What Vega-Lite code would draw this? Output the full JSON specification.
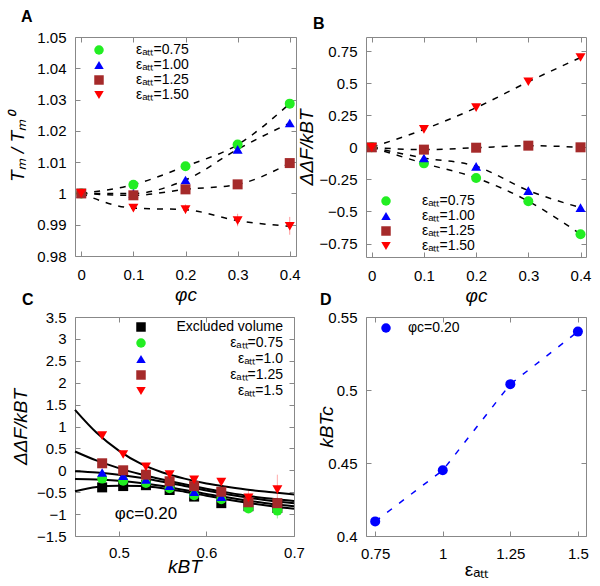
{
  "$schema": "https://vega.github.io/schema/vega-lite/v6.json",
  "padding": {"left": 8, "top": 8, "right": 5, "bottom": 5},
  "background": "white",
  "config": {
    "font": "Liberation Sans",
    "view": {"stroke": "#888", "strokeWidth": 1},
    "axis": {"grid": false, "domain": false, "tickColor": "#888", "tickSize": -5, "labelFontSize": 15, "labelColor": "#000", "labelPadding": 14, "labelFlush": false, "labelOverlap": false, "titleFontSize": 19, "titleFontWeight": "normal", "titleFontStyle": "italic", "titleColor": "#000"},
    "legend": {"labelFontSize": 14, "labelColor": "#000"},
    "title": {"fontSize": 16, "fontWeight": "bold", "anchor": "start", "frame": "group", "color": "#000"}
  },
  "datasets": {
    "a": [
      {"x": 0, "y": 1.0, "s": "εₐₜₜ=0.75"}, {"x": 0.1, "y": 1.0028, "s": "εₐₜₜ=0.75"}, {"x": 0.2, "y": 1.0087, "s": "εₐₜₜ=0.75"}, {"x": 0.3, "y": 1.0156, "s": "εₐₜₜ=0.75"}, {"x": 0.4, "y": 1.0287, "s": "εₐₜₜ=0.75"},
      {"x": 0, "y": 1.0, "s": "εₐₜₜ=1.00"}, {"x": 0.1, "y": 1.0, "s": "εₐₜₜ=1.00"}, {"x": 0.2, "y": 1.0043, "s": "εₐₜₜ=1.00"}, {"x": 0.3, "y": 1.0141, "s": "εₐₜₜ=1.00"}, {"x": 0.4, "y": 1.0225, "s": "εₐₜₜ=1.00"},
      {"x": 0, "y": 1.0, "s": "εₐₜₜ=1.25"}, {"x": 0.1, "y": 0.9994, "s": "εₐₜₜ=1.25"}, {"x": 0.2, "y": 1.0013, "s": "εₐₜₜ=1.25"}, {"x": 0.3, "y": 1.0029, "s": "εₐₜₜ=1.25"}, {"x": 0.4, "y": 1.0097, "s": "εₐₜₜ=1.25"},
      {"x": 0, "y": 1.0, "s": "εₐₜₜ=1.50"}, {"x": 0.1, "y": 0.9953, "s": "εₐₜₜ=1.50"}, {"x": 0.2, "y": 0.9948, "s": "εₐₜₜ=1.50"}, {"x": 0.3, "y": 0.9913, "s": "εₐₜₜ=1.50"}, {"x": 0.4, "y": 0.9895, "s": "εₐₜₜ=1.50"}
    ],
    "aerr": [
      {"x": 0.1, "lo": 0.9945, "hi": 0.996}, {"x": 0.2, "lo": 0.9935, "hi": 0.9965}, {"x": 0.3, "lo": 0.9895, "hi": 0.9935}, {"x": 0.4, "lo": 0.9868, "hi": 0.9925}
    ],
    "b": [
      {"x": 0, "y": 0, "s": "εₐₜₜ=0.75"}, {"x": 0.1, "y": -0.125, "s": "εₐₜₜ=0.75"}, {"x": 0.2, "y": -0.239, "s": "εₐₜₜ=0.75"}, {"x": 0.3, "y": -0.42, "s": "εₐₜₜ=0.75"}, {"x": 0.4, "y": -0.677, "s": "εₐₜₜ=0.75"},
      {"x": 0, "y": 0, "s": "εₐₜₜ=1.00"}, {"x": 0.1, "y": -0.083, "s": "εₐₜₜ=1.00"}, {"x": 0.2, "y": -0.148, "s": "εₐₜₜ=1.00"}, {"x": 0.3, "y": -0.337, "s": "εₐₜₜ=1.00"}, {"x": 0.4, "y": -0.47, "s": "εₐₜₜ=1.00"},
      {"x": 0, "y": 0, "s": "εₐₜₜ=1.25"}, {"x": 0.1, "y": -0.018, "s": "εₐₜₜ=1.25"}, {"x": 0.2, "y": -0.003, "s": "εₐₜₜ=1.25"}, {"x": 0.3, "y": 0.013, "s": "εₐₜₜ=1.25"}, {"x": 0.4, "y": 0.0, "s": "εₐₜₜ=1.25"},
      {"x": 0, "y": 0, "s": "εₐₜₜ=1.50"}, {"x": 0.1, "y": 0.14, "s": "εₐₜₜ=1.50"}, {"x": 0.2, "y": 0.309, "s": "εₐₜₜ=1.50"}, {"x": 0.3, "y": 0.511, "s": "εₐₜₜ=1.50"}, {"x": 0.4, "y": 0.70, "s": "εₐₜₜ=1.50"}
    ],
    "cp": [
      {"x": 0.481, "y": -0.39, "s": "Excluded volume"}, {"x": 0.505, "y": -0.36, "s": "Excluded volume"}, {"x": 0.531, "y": -0.34, "s": "Excluded volume"}, {"x": 0.558, "y": -0.45, "s": "Excluded volume"}, {"x": 0.586, "y": -0.6, "s": "Excluded volume"}, {"x": 0.617, "y": -0.75, "s": "Excluded volume"}, {"x": 0.648, "y": -0.82, "s": "Excluded volume"}, {"x": 0.681, "y": -0.86, "s": "Excluded volume"},
      {"x": 0.481, "y": -0.19, "s": "εₐₜₜ=0.75"}, {"x": 0.505, "y": -0.24, "s": "εₐₜₜ=0.75"}, {"x": 0.531, "y": -0.29, "s": "εₐₜₜ=0.75"}, {"x": 0.558, "y": -0.41, "s": "εₐₜₜ=0.75"}, {"x": 0.586, "y": -0.57, "s": "εₐₜₜ=0.75"}, {"x": 0.617, "y": -0.66, "s": "εₐₜₜ=0.75"}, {"x": 0.648, "y": -0.87, "s": "εₐₜₜ=0.75"}, {"x": 0.681, "y": -0.92, "s": "εₐₜₜ=0.75"},
      {"x": 0.481, "y": -0.05, "s": "εₐₜₜ=1.0"}, {"x": 0.505, "y": -0.12, "s": "εₐₜₜ=1.0"}, {"x": 0.531, "y": -0.21, "s": "εₐₜₜ=1.0"}, {"x": 0.558, "y": -0.35, "s": "εₐₜₜ=1.0"}, {"x": 0.586, "y": -0.49, "s": "εₐₜₜ=1.0"}, {"x": 0.617, "y": -0.6, "s": "εₐₜₜ=1.0"}, {"x": 0.648, "y": -0.68, "s": "εₐₜₜ=1.0"}, {"x": 0.681, "y": -0.74, "s": "εₐₜₜ=1.0"},
      {"x": 0.481, "y": 0.16, "s": "εₐₜₜ=1.25"}, {"x": 0.505, "y": 0.0, "s": "εₐₜₜ=1.25"}, {"x": 0.531, "y": -0.1, "s": "εₐₜₜ=1.25"}, {"x": 0.558, "y": -0.25, "s": "εₐₜₜ=1.25"}, {"x": 0.586, "y": -0.36, "s": "εₐₜₜ=1.25"}, {"x": 0.617, "y": -0.49, "s": "εₐₜₜ=1.25"}, {"x": 0.648, "y": -0.73, "s": "εₐₜₜ=1.25"}, {"x": 0.681, "y": -0.75, "s": "εₐₜₜ=1.25"},
      {"x": 0.481, "y": 0.79, "s": "εₐₜₜ=1.5"}, {"x": 0.505, "y": 0.36, "s": "εₐₜₜ=1.5"}, {"x": 0.531, "y": 0.08, "s": "εₐₜₜ=1.5"}, {"x": 0.558, "y": -0.1, "s": "εₐₜₜ=1.5"}, {"x": 0.586, "y": -0.22, "s": "εₐₜₜ=1.5"}, {"x": 0.617, "y": -0.27, "s": "εₐₜₜ=1.5"}, {"x": 0.648, "y": -0.63, "s": "εₐₜₜ=1.5"}, {"x": 0.681, "y": -0.44, "s": "εₐₜₜ=1.5"}
    ],
    "cerr": [
      {"x": 0.617, "lo": -0.35, "hi": -0.2, "s": "red"},
      {"x": 0.648, "lo": -0.78, "hi": -0.45, "s": "red"},
      {"x": 0.681, "lo": -0.85, "hi": -0.1, "s": "red"},
      {"x": 0.648, "lo": -0.97, "hi": -0.78, "s": "green"},
      {"x": 0.681, "lo": -1.1, "hi": -0.75, "s": "green"},
      {"x": 0.681, "lo": -0.88, "hi": -0.62, "s": "brown"}
    ],
    "cf": [
      {"x": 0.45, "y": 1.38, "s": "r"}, {"x": 0.475, "y": 0.85, "s": "r"}, {"x": 0.5, "y": 0.45, "s": "r"}, {"x": 0.525, "y": 0.15, "s": "r"}, {"x": 0.55, "y": -0.05, "s": "r"}, {"x": 0.575, "y": -0.19, "s": "r"}, {"x": 0.6, "y": -0.3, "s": "r"}, {"x": 0.625, "y": -0.38, "s": "r"}, {"x": 0.65, "y": -0.45, "s": "r"}, {"x": 0.675, "y": -0.5, "s": "r"}, {"x": 0.7, "y": -0.55, "s": "r"},
      {"x": 0.45, "y": 0.43, "s": "br"}, {"x": 0.475, "y": 0.22, "s": "br"}, {"x": 0.5, "y": 0.05, "s": "br"}, {"x": 0.525, "y": -0.09, "s": "br"}, {"x": 0.55, "y": -0.21, "s": "br"}, {"x": 0.575, "y": -0.32, "s": "br"}, {"x": 0.6, "y": -0.42, "s": "br"}, {"x": 0.625, "y": -0.51, "s": "br"}, {"x": 0.65, "y": -0.59, "s": "br"}, {"x": 0.675, "y": -0.65, "s": "br"}, {"x": 0.7, "y": -0.7, "s": "br"},
      {"x": 0.45, "y": -0.02, "s": "bl"}, {"x": 0.475, "y": -0.05, "s": "bl"}, {"x": 0.5, "y": -0.1, "s": "bl"}, {"x": 0.525, "y": -0.17, "s": "bl"}, {"x": 0.55, "y": -0.26, "s": "bl"}, {"x": 0.575, "y": -0.36, "s": "bl"}, {"x": 0.6, "y": -0.46, "s": "bl"}, {"x": 0.625, "y": -0.55, "s": "bl"}, {"x": 0.65, "y": -0.63, "s": "bl"}, {"x": 0.675, "y": -0.7, "s": "bl"}, {"x": 0.7, "y": -0.75, "s": "bl"},
      {"x": 0.45, "y": -0.2, "s": "g"}, {"x": 0.475, "y": -0.21, "s": "g"}, {"x": 0.5, "y": -0.24, "s": "g"}, {"x": 0.525, "y": -0.29, "s": "g"}, {"x": 0.55, "y": -0.36, "s": "g"}, {"x": 0.575, "y": -0.45, "s": "g"}, {"x": 0.6, "y": -0.54, "s": "g"}, {"x": 0.625, "y": -0.62, "s": "g"}, {"x": 0.65, "y": -0.7, "s": "g"}, {"x": 0.675, "y": -0.77, "s": "g"}, {"x": 0.7, "y": -0.82, "s": "g"},
      {"x": 0.45, "y": -0.48, "s": "k"}, {"x": 0.475, "y": -0.38, "s": "k"}, {"x": 0.5, "y": -0.35, "s": "k"}, {"x": 0.525, "y": -0.36, "s": "k"}, {"x": 0.55, "y": -0.41, "s": "k"}, {"x": 0.575, "y": -0.49, "s": "k"}, {"x": 0.6, "y": -0.58, "s": "k"}, {"x": 0.625, "y": -0.67, "s": "k"}, {"x": 0.65, "y": -0.75, "s": "k"}, {"x": 0.675, "y": -0.82, "s": "k"}, {"x": 0.7, "y": -0.88, "s": "k"}
    ],
    "cann": [{"x": 0.531, "y": -1.0, "label": "φc=0.20"}],
    "d": [
      {"x": 0.75, "y": 0.41, "s": "φc=0.20"}, {"x": 1.0, "y": 0.445, "s": "φc=0.20"}, {"x": 1.25, "y": 0.504, "s": "φc=0.20"}, {"x": 1.5, "y": 0.540, "s": "φc=0.20"}
    ]
  },
  "columns": 2,
  "spacing": {"row": 60, "column": 70},
  "bounds": "flush",
  "resolve": {"scale": {"color": "independent", "shape": "independent"}, "legend": {"color": "independent", "shape": "independent"}},
  "concat": [
    {
      "title": {"text": "A", "dx": -54, "offset": 5},
      "width": 221, "height": 219,
      "resolve": {"axis": {"x": "independent", "y": "independent"}},
      "encoding": {
        "x": {"field": "x", "type": "quantitative", "scale": {"domain": [-0.012, 0.412], "nice": false, "zero": false}, "axis": null},
        "y": {"field": "y", "type": "quantitative", "scale": {"domain": [0.98, 1.05], "nice": false, "zero": false}, "axis": null}
      },
      "layer": [
        {"data": {"name": "a"}, "mark": {"type": "point", "opacity": 0},
         "encoding": {
           "x": {"field": "x", "type": "quantitative", "axis": {"orient": "top", "labels": false, "title": null, "values": [0, 0.1, 0.2, 0.3, 0.4]}},
           "y": {"field": "y", "type": "quantitative", "axis": {"orient": "right", "labels": false, "title": null, "values": [0.98, 0.99, 1, 1.01, 1.02, 1.03, 1.04, 1.05]}}
         }},
        {"data": {"name": "aerr"}, "mark": {"type": "rule", "strokeWidth": 1, "color": "#ff9a9a"},
         "encoding": {"y": {"field": "lo", "type": "quantitative", "axis": null}, "y2": {"field": "hi"}}},
        {"data": {"name": "a"}, "mark": {"type": "line", "color": "#000", "strokeWidth": 1.5, "strokeDash": [6, 7], "interpolate": "monotone"},
         "encoding": {"detail": {"field": "s"}}},
        {"data": {"name": "a"}, "mark": {"type": "point", "filled": true, "opacity": 1, "size": 100},
         "encoding": {
           "x": {"field": "x", "type": "quantitative", "title": "φc", "axis": {"orient": "bottom", "values": [0, 0.1, 0.2, 0.3, 0.4], "format": ".1~f", "labelPadding": 16, "titlePadding": 3}},
           "y": {"field": "y", "type": "quantitative", "title": "Tₘ / Tₘ⁰", "axis": {"orient": "left", "values": [0.98, 0.99, 1, 1.01, 1.02, 1.03, 1.04, 1.05], "format": ".2~f", "titlePadding": 9}},
           "color": {"field": "s", "type": "nominal", "scale": {"domain": ["εₐₜₜ=0.75", "εₐₜₜ=1.00", "εₐₜₜ=1.25", "εₐₜₜ=1.50"], "range": ["#22ee22", "#0000ff", "#a52a2a", "#ff0000"]}, "legend": {"title": null, "orient": "none", "legendX": 17, "legendY": 6, "labelOffset": 30, "rowPadding": 1, "symbolSize": 90}},
           "shape": {"field": "s", "type": "nominal", "scale": {"domain": ["εₐₜₜ=0.75", "εₐₜₜ=1.00", "εₐₜₜ=1.25", "εₐₜₜ=1.50"], "range": ["circle", "triangle-up", "square", "triangle-down"]}, "legend": {"title": null, "orient": "none", "legendX": 17, "legendY": 6, "labelOffset": 30, "rowPadding": 1, "symbolSize": 90}}
         }}
      ]
    },
    {
      "title": {"text": "B", "dx": -53, "offset": 5},
      "width": 220, "height": 220,
      "resolve": {"axis": {"x": "independent", "y": "independent"}},
      "encoding": {
        "x": {"field": "x", "type": "quantitative", "scale": {"domain": [-0.011, 0.4105], "nice": false, "zero": false}, "axis": null},
        "y": {"field": "y", "type": "quantitative", "scale": {"domain": [-0.855, 0.86], "nice": false, "zero": false}, "axis": null}
      },
      "layer": [
        {"data": {"name": "b"}, "mark": {"type": "point", "opacity": 0},
         "encoding": {
           "x": {"field": "x", "type": "quantitative", "axis": {"orient": "top", "labels": false, "title": null, "values": [0, 0.1, 0.2, 0.3, 0.4]}},
           "y": {"field": "y", "type": "quantitative", "axis": {"orient": "right", "labels": false, "title": null, "values": [-0.75, -0.5, -0.25, 0, 0.25, 0.5, 0.75]}}
         }},
        {"data": {"name": "b"}, "mark": {"type": "line", "color": "#000", "strokeWidth": 1.5, "strokeDash": [6, 7], "interpolate": "monotone"},
         "encoding": {"detail": {"field": "s"}}},
        {"data": {"name": "b"}, "mark": {"type": "point", "filled": true, "opacity": 1, "size": 100},
         "encoding": {
           "x": {"field": "x", "type": "quantitative", "title": "φc", "axis": {"orient": "bottom", "values": [0, 0.1, 0.2, 0.3, 0.4], "format": ".1~f", "labelPadding": 16, "titlePadding": 3}},
           "y": {"field": "y", "type": "quantitative", "title": "ΔΔF/kBT", "axis": {"orient": "left", "values": [-0.75, -0.5, -0.25, 0, 0.25, 0.5, 0.75], "format": ".2~f", "titlePadding": 3}},
           "color": {"field": "s", "type": "nominal", "scale": {"domain": ["εₐₜₜ=0.75", "εₐₜₜ=1.00", "εₐₜₜ=1.25", "εₐₜₜ=1.50"], "range": ["#22ee22", "#0000ff", "#a52a2a", "#ff0000"]}, "legend": {"title": null, "orient": "none", "legendX": 13, "legendY": 157, "labelOffset": 29, "rowPadding": 1, "symbolSize": 90}},
           "shape": {"field": "s", "type": "nominal", "scale": {"domain": ["εₐₜₜ=0.75", "εₐₜₜ=1.00", "εₐₜₜ=1.25", "εₐₜₜ=1.50"], "range": ["circle", "triangle-up", "square", "triangle-down"]}, "legend": {"title": null, "orient": "none", "legendX": 13, "legendY": 157, "labelOffset": 29, "rowPadding": 1, "symbolSize": 90}}
         }}
      ]
    },
    {
      "title": {"text": "C", "dx": -53, "offset": 2},
      "width": 219, "height": 219,
      "resolve": {"axis": {"x": "independent", "y": "independent"}},
      "encoding": {
        "x": {"field": "x", "type": "quantitative", "scale": {"domain": [0.45, 0.7], "nice": false, "zero": false}, "axis": null},
        "y": {"field": "y", "type": "quantitative", "scale": {"domain": [-1.5, 3.5], "nice": false, "zero": false}, "axis": null}
      },
      "layer": [
        {"data": {"name": "cp"}, "mark": {"type": "point", "opacity": 0},
         "encoding": {
           "x": {"field": "x", "type": "quantitative", "axis": {"orient": "top", "labels": false, "title": null, "values": [0.5, 0.6, 0.7]}},
           "y": {"field": "y", "type": "quantitative", "axis": {"orient": "right", "labels": false, "title": null, "values": [-1.5, -1, -0.5, 0, 0.5, 1, 1.5, 2, 2.5, 3, 3.5]}}
         }},
        {"data": {"name": "cerr"}, "transform": [{"filter": "datum.s === 'red'"}], "mark": {"type": "rule", "strokeWidth": 1, "color": "#ffaaaa"},
         "encoding": {"y": {"field": "lo", "type": "quantitative", "axis": null}, "y2": {"field": "hi"}}},
        {"data": {"name": "cerr"}, "transform": [{"filter": "datum.s === 'green'"}], "mark": {"type": "rule", "strokeWidth": 1, "color": "#99ee99"},
         "encoding": {"y": {"field": "lo", "type": "quantitative", "axis": null}, "y2": {"field": "hi"}}},
        {"data": {"name": "cerr"}, "transform": [{"filter": "datum.s === 'brown'"}], "mark": {"type": "rule", "strokeWidth": 1, "color": "#d4a0a0"},
         "encoding": {"y": {"field": "lo", "type": "quantitative", "axis": null}, "y2": {"field": "hi"}}},
        {"data": {"name": "cf"}, "mark": {"type": "line", "color": "#000", "strokeWidth": 2, "interpolate": "monotone"},
         "encoding": {"detail": {"field": "s"}}},
        {"mark": {"type": "rule", "color": "#000", "strokeWidth": 2.5}, "encoding": {"y": {"datum": 0, "axis": null}}},
        {"data": {"name": "cp"}, "mark": {"type": "point", "filled": true, "opacity": 1, "size": 100},
         "encoding": {
           "x": {"field": "x", "type": "quantitative", "title": "kBT", "axis": {"orient": "bottom", "values": [0.5, 0.6, 0.7], "format": ".1~f", "labelPadding": 14, "titlePadding": -3}},
           "y": {"field": "y", "type": "quantitative", "title": "ΔΔF/kBT", "axis": {"orient": "left", "values": [-1.5, -1, -0.5, 0, 0.5, 1, 1.5, 2, 2.5, 3, 3.5], "format": ".1~f", "titlePadding": 6}},
           "color": {"field": "s", "type": "nominal", "scale": {"domain": ["Excluded volume", "εₐₜₜ=0.75", "εₐₜₜ=1.0", "εₐₜₜ=1.25", "εₐₜₜ=1.5"], "range": ["#000000", "#22ee22", "#0000ff", "#a52a2a", "#ff0000"]}, "legend": {"title": null, "orient": "none", "legendX": 59, "legendY": 3, "labelOffset": 135, "labelAlign": "right", "rowPadding": 2, "symbolSize": 90}},
           "shape": {"field": "s", "type": "nominal", "scale": {"domain": ["Excluded volume", "εₐₜₜ=0.75", "εₐₜₜ=1.0", "εₐₜₜ=1.25", "εₐₜₜ=1.5"], "range": ["square", "circle", "triangle-up", "square", "triangle-down"]}, "legend": {"title": null, "orient": "none", "legendX": 59, "legendY": 3, "labelOffset": 135, "labelAlign": "right", "rowPadding": 2, "symbolSize": 90}}
         }},
        {"data": {"name": "cann"}, "mark": {"type": "text", "fontSize": 17, "align": "center", "baseline": "middle", "color": "#000"},
         "encoding": {"text": {"field": "label"}}}
      ]
    },
    {
      "title": {"text": "D", "dx": -46, "offset": 2},
      "width": 220, "height": 219,
      "resolve": {"axis": {"x": "independent", "y": "independent"}},
      "encoding": {
        "x": {"field": "x", "type": "quantitative", "scale": {"domain": [0.716, 1.53], "nice": false, "zero": false}, "axis": null},
        "y": {"field": "y", "type": "quantitative", "scale": {"domain": [0.4, 0.55], "nice": false, "zero": false}, "axis": null}
      },
      "layer": [
        {"data": {"name": "d"}, "mark": {"type": "point", "opacity": 0},
         "encoding": {
           "x": {"field": "x", "type": "quantitative", "axis": {"orient": "top", "labels": false, "title": null, "values": [0.75, 1, 1.25, 1.5]}},
           "y": {"field": "y", "type": "quantitative", "axis": {"orient": "right", "labels": false, "title": null, "values": [0.4, 0.45, 0.5, 0.55]}}
         }},
        {"data": {"name": "d"}, "mark": {"type": "line", "color": "#0000ff", "strokeWidth": 1.5, "strokeDash": [6, 9], "interpolate": "linear"},
         "encoding": {}},
        {"data": {"name": "d"}, "mark": {"type": "point", "filled": true, "opacity": 1, "size": 100},
         "encoding": {
           "x": {"field": "x", "type": "quantitative", "title": "εₐₜₜ", "axis": {"orient": "bottom", "values": [0.75, 1, 1.25, 1.5], "format": ".2~f", "labelPadding": 15, "titlePadding": -1, "titleFontStyle": "normal"}},
           "y": {"field": "y", "type": "quantitative", "title": "kBTc", "axis": {"orient": "left", "values": [0.4, 0.45, 0.5, 0.55], "format": ".2~f", "titlePadding": -9}},
           "color": {"field": "s", "type": "nominal", "scale": {"range": ["#0000ff"]}, "legend": {"title": null, "orient": "none", "legendX": 13, "legendY": 4, "labelOffset": 15, "symbolSize": 90}}
         }}
      ]
    }
  ]
}
